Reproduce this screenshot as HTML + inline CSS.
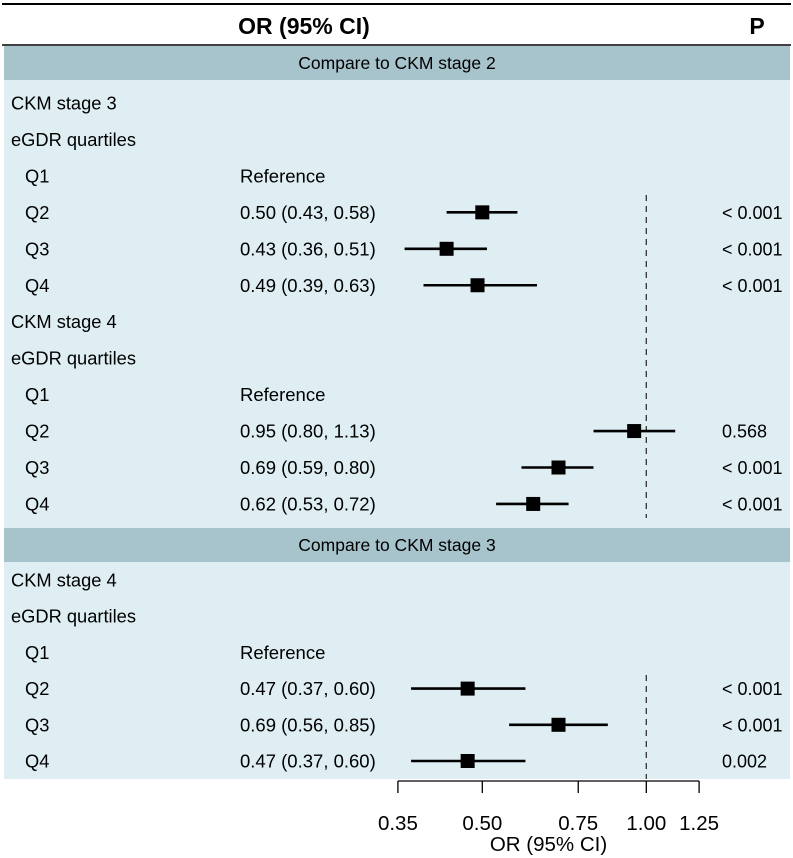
<!DOCTYPE html>
<html><head><meta charset="utf-8"><style>
body{margin:0;background:#fff}
svg{display:block;font-family:"Liberation Sans",Arial,sans-serif}
</style></head><body>
<svg id="c" width="793" height="858" viewBox="0 0 793 858" xmlns="http://www.w3.org/2000/svg">
<line x1="2" y1="4" x2="791" y2="4" stroke="#000" stroke-width="2"/>
<text x="304" y="34" font-size="23" font-weight="bold" text-anchor="middle">OR (95% CI)</text>
<text x="757" y="34" font-size="23" font-weight="bold" text-anchor="middle">P</text>
<line x1="2" y1="45" x2="791" y2="45" stroke="#000" stroke-width="1.5"/>
<rect x="4" y="46" width="786" height="34" fill="#a7c3cb"/>
<text x="397" y="69" font-size="17.5" text-anchor="middle">Compare to CKM stage 2</text>
<rect x="4" y="80" width="786" height="448" fill="#deeef3"/>
<rect x="4" y="528" width="786" height="34" fill="#a7c3cb"/>
<text x="397" y="551" font-size="17.5" text-anchor="middle">Compare to CKM stage 3</text>
<rect x="4" y="562" width="786" height="217" fill="#deeef3"/>
<g id="rows"></g>
<g id="axis"></g>
</svg>
<script>
const rowLabels = ["CKM stage 3","eGDR quartiles","Q1","Q2","Q3","Q4","CKM stage 4","eGDR quartiles","Q1","Q2","Q3","Q4","CKM stage 4","eGDR quartiles","Q1","Q2","Q3","Q4"];
const rowIndent = [0,0,1,1,1,1,0,0,1,1,1,1,0,0,1,1,1,1];
const orText = ["","","Reference","0.50 (0.43, 0.58)","0.43 (0.36, 0.51)","0.49 (0.39, 0.63)","","","Reference","0.95 (0.80, 1.13)","0.69 (0.59, 0.80)","0.62 (0.53, 0.72)","","","Reference","0.47 (0.37, 0.60)","0.69 (0.56, 0.85)","0.47 (0.37, 0.60)"];
const estimates = [null,null,null,0.50,0.43,0.49,null,null,null,0.95,0.69,0.62,null,null,null,0.47,0.69,0.47];
const lower = [null,null,null,0.43,0.36,0.39,null,null,null,0.80,0.59,0.53,null,null,null,0.37,0.56,0.37];
const upper = [null,null,null,0.58,0.51,0.63,null,null,null,1.13,0.80,0.72,null,null,null,0.60,0.85,0.60];
const pText = ["","","","< 0.001","< 0.001","< 0.001","","","","0.568","< 0.001","< 0.001","","","","< 0.001","< 0.001","0.002"];
const tickValues = [0.35,0.50,0.75,1.00,1.25];
const tickLabels = ["0.35","0.50","0.75","1.00","1.25"];

const NS="http://www.w3.org/2000/svg";
function xs(v){return 646.3+Math.log(v)*236.6;}
function ys(i){return i<12 ? 103+i*36.45 : 580+(i-12)*36.2;}
function mk(tag,attrs,parent){const e=document.createElementNS(NS,tag);for(const k in attrs)e.setAttribute(k,attrs[k]);parent.appendChild(e);return e;}
const rows=document.getElementById('rows');
const d1=mk('line',{x1:xs(1),x2:xs(1),y1:195,y2:518,stroke:'#333','stroke-width':1.3,'stroke-dasharray':'6,5'},rows);


const d2=mk('line',{x1:xs(1),x2:xs(1),y1:675,y2:779,stroke:'#333','stroke-width':1.3,'stroke-dasharray':'6,5'},rows);


rowLabels.forEach((lab,i)=>{
  const y=ys(i);
  const t=mk('text',{x:rowIndent[i]?25:11,y:y+6.5,'font-size':18.3},rows);t.textContent=lab;
  
  
  if(orText[i]){const o=mk('text',{x:240,y:y+6.5,'font-size':18.5},rows);o.textContent=orText[i];
    
    }
  if(pText[i]){const p=mk('text',{x:722,y:y+6.5,'font-size':18},rows);p.textContent=pText[i];
    
    }
  if(estimates[i]!=null){
    const l=mk('line',{x1:xs(lower[i]),x2:xs(upper[i]),y1:y,y2:y,stroke:'#000','stroke-width':2.6},rows);
    
    
    const s=mk('rect',{x:xs(estimates[i])-7,y:y-7,width:14,height:14,fill:'#000'},rows);
    
    
  }
});
const ax=document.getElementById('axis');
const al=mk('line',{x1:xs(tickValues[0]),x2:xs(tickValues[tickValues.length-1]),y1:781,y2:781,stroke:'#000','stroke-width':1.3},ax);


tickValues.forEach((v,i)=>{
  const tk=mk('line',{x1:xs(v),x2:xs(v),y1:781,y2:793,stroke:'#000','stroke-width':1.3},ax);
  
  
  const tl=mk('text',{x:xs(v),y:830,'font-size':20.5,'text-anchor':'middle'},ax);tl.textContent=tickLabels[i];
  
  
});
const at=mk('text',{x:(xs(0.35)+xs(1.25))/2,y:851,'font-size':20.5,'text-anchor':'middle'},ax);at.textContent="OR (95% CI)";


</script>
</body></html>
